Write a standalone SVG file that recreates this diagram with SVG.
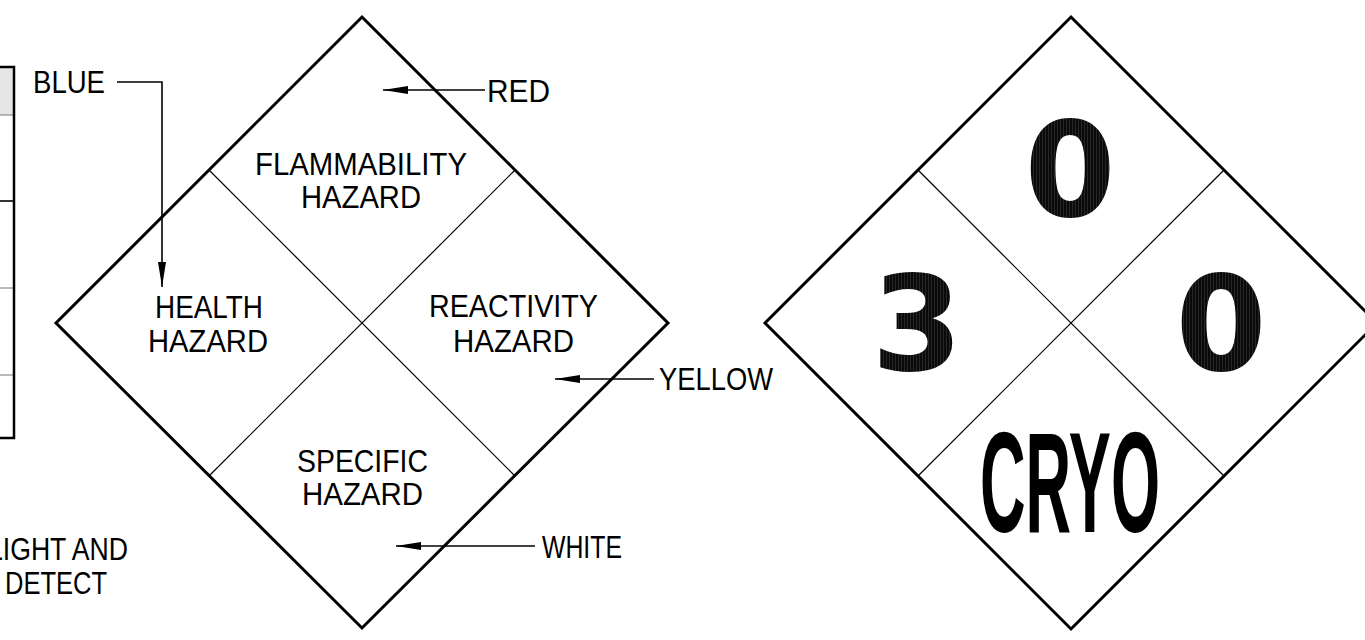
<svg xmlns="http://www.w3.org/2000/svg" width="1365" height="640" viewBox="0 0 1365 640">
  <style>
    .outline { fill: none; stroke: #000; stroke-width: 3; stroke-linejoin: miter; }
    .divider { fill: none; stroke: #000; stroke-width: 1.2; }
    .label { font-family: "Liberation Sans", Arial, sans-serif; font-size: 32px; fill: #000; }
    .lead { fill: none; stroke: #000; stroke-width: 1.6; }
    .digit { font-family: "DejaVu Sans", sans-serif; font-weight: bold; font-size: 131px; text-anchor: middle; fill: url(#hatch); }
    .word { font-family: "Liberation Sans", Arial, sans-serif; font-weight: bold; font-size: 142px; fill: #000; }
    .cell { stroke: #777; stroke-width: 1; }
  </style>
  <defs>
    <marker id="arrow" markerUnits="userSpaceOnUse" markerWidth="26" markerHeight="8" refX="25" refY="4" orient="auto">
      <path d="M0,0 L25,4 L0,8 Z" fill="#000"/>
    </marker>
    <!-- solid black with faint vertical hatching for the rating digits -->
    <pattern id="hatch" patternUnits="userSpaceOnUse" width="3" height="10">
      <rect width="3" height="10" fill="#0a0a0a"/>
      <line x1="1.5" y1="0" x2="1.5" y2="10" stroke="#4a4a4a" stroke-width="0.45"/>
    </pattern>
  </defs>

  <rect width="1365" height="640" fill="#fff"/>

  <!-- partial table at the left edge -->
  <g id="table">
    <rect x="0" y="67" width="14" height="48" fill="#e6e6e6"/>
    <line class="cell" x1="0" y1="115" x2="14" y2="115"/>
    <line x1="0" y1="201" x2="14" y2="201" stroke="#000" stroke-width="1.6"/>
    <line class="cell" x1="0" y1="288" x2="14" y2="288"/>
    <line class="cell" x1="0" y1="375" x2="14" y2="375"/>
    <path d="M0,67 H14 V438 H0" fill="none" stroke="#000" stroke-width="2.5"/>
  </g>

  <!-- legend diamond -->
  <g id="legend-diamond">
    <path class="outline" d="M362,17 L668,323 L362,628 L56,323 Z"/>
    <line class="divider" x1="209" y1="170" x2="515" y2="476"/>
    <line class="divider" x1="515" y1="170" x2="209" y2="476"/>
  </g>

  <g id="flammability">
    <text class="label" x="255" y="175" textLength="212" lengthAdjust="spacingAndGlyphs">FLAMMABILITY</text>
    <text class="label" x="301" y="208" textLength="120" lengthAdjust="spacingAndGlyphs">HAZARD</text>
  </g>
  <g id="health">
    <text class="label" x="155" y="318" textLength="108" lengthAdjust="spacingAndGlyphs">HEALTH</text>
    <text class="label" x="148" y="352" textLength="120" lengthAdjust="spacingAndGlyphs">HAZARD</text>
  </g>
  <g id="reactivity">
    <text class="label" x="429" y="317" textLength="169" lengthAdjust="spacingAndGlyphs">REACTIVITY</text>
    <text class="label" x="453" y="352" textLength="121" lengthAdjust="spacingAndGlyphs">HAZARD</text>
  </g>
  <g id="specific">
    <text class="label" x="297" y="472" textLength="131" lengthAdjust="spacingAndGlyphs">SPECIFIC</text>
    <text class="label" x="302" y="505" textLength="121" lengthAdjust="spacingAndGlyphs">HAZARD</text>
  </g>

  <!-- colour call-outs -->
  <g id="blue-label"><text class="label" x="33" y="93" textLength="72" lengthAdjust="spacingAndGlyphs">BLUE</text></g>
  <g id="red-label"><text class="label" x="487" y="102" textLength="63" lengthAdjust="spacingAndGlyphs">RED</text></g>
  <g id="yellow-label"><text class="label" x="659" y="390" textLength="114" lengthAdjust="spacingAndGlyphs">YELLOW</text></g>
  <g id="white-label"><text class="label" x="542" y="558" textLength="80" lengthAdjust="spacingAndGlyphs">WHITE</text></g>

  <g id="note">
    <text class="label" x="-12" y="560" textLength="140" lengthAdjust="spacingAndGlyphs">LIGHT AND</text>
    <text class="label" x="5" y="594" textLength="102" lengthAdjust="spacingAndGlyphs">DETECT</text>
  </g>

  <g id="connectors">
    <polyline class="lead" points="117,82 162,82 162,287" marker-end="url(#arrow)"/>
    <line class="lead" x1="485" y1="90" x2="383" y2="90" marker-end="url(#arrow)"/>
    <line class="lead" x1="654" y1="379" x2="555" y2="379" marker-end="url(#arrow)"/>
    <line class="lead" x1="535" y1="546" x2="396" y2="546" marker-end="url(#arrow)"/>
  </g>

  <!-- example placard -->
  <g id="placard">
    <path class="outline" d="M1071,17 L1377,323 L1071,629 L765,323 Z"/>
    <line class="divider" x1="918" y1="170" x2="1224" y2="476"/>
    <line class="divider" x1="1224" y1="170" x2="918" y2="476"/>
    <g id="flammability-rating"><text class="digit" x="1070" y="216">0</text></g>
    <g id="health-rating"><text class="digit" x="917" y="370">3</text></g>
    <g id="reactivity-rating"><text class="digit" x="1221" y="370">0</text></g>
    <g id="special-hazard"><text class="word" x="980" y="532" textLength="180" lengthAdjust="spacingAndGlyphs">CRYO</text></g>
  </g>
</svg>
